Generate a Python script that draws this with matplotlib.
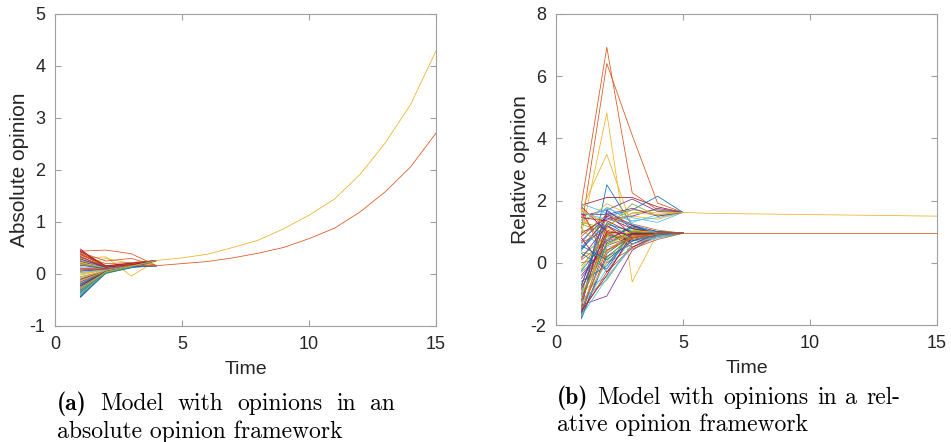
import matplotlib
matplotlib.use("Agg")
import matplotlib.pyplot as plt

# --- data ---
time = [1, 2, 3, 4, 5, 6, 7, 8, 9, 10, 11, 12, 13, 14, 15]

# (a) absolute opinions: first three steps per agent, then the cluster tail (t = 4..15)
a_t1 = [-0.44, 0.44, 0.30, -0.30, 0.10, -0.40, 0.48, -0.36, 0.40, 0.22, -0.20, 0.05, -0.32, 0.38, -0.12,
        0.26, 0.16, -0.25, -0.05, -0.42, 0.34, -0.28, 0.20, 0.12, -0.15, 0.28, -0.08, 0.45, -0.38, 0.36,
        0.02, -0.34, 0.18, -0.18, 0.24, -0.22, 0.42, -0.02, 0.08, -0.26, 0.14, -0.10, 0.32, -0.16, 0.00,
        -0.43, 0.21, -0.37, 0.43, -0.31, 0.33, -0.13, 0.06, -0.41, 0.27, -0.23, -0.45, 0.39, -0.07, 0.17,
        -0.33, 0.03, 0.29, -0.19, 0.11, -0.29]
a_t2 = [0.05, 0.46, 0.33, 0.08, 0.12, 0.02, 0.10, 0.06, 0.15, 0.11, 0.04, 0.09, 0.03, 0.14, 0.07,
        0.13, 0.30, 0.05, 0.06, 0.01, 0.12, 0.04, 0.10, 0.08, 0.06, 0.12, 0.07, 0.16, 0.03, 0.20,
        0.09, 0.02, 0.11, 0.05, 0.13, 0.04, 0.25, 0.08, 0.10, 0.05, 0.10, 0.06, 0.14, 0.05, 0.08,
        0.03, 0.10, 0.02, 0.15, 0.04, 0.12, 0.06, 0.09, 0.01, 0.11, 0.05, 0.02, 0.14, 0.07, 0.10,
        0.03, 0.08, 0.13, 0.05, 0.09, 0.04]
a_t3 = [0.15, 0.39, -0.04, 0.14, 0.18, 0.13, 0.16, 0.17, 0.20, 0.19, 0.14, 0.15, 0.16, 0.17, 0.15,
        0.18, 0.20, 0.15, 0.16, 0.12, 0.17, 0.15, 0.16, 0.18, 0.14, 0.19, 0.16, 0.21, 0.13, 0.22,
        0.17, 0.14, 0.17, 0.15, 0.18, 0.14, 0.30, 0.16, 0.17, 0.15, 0.18, 0.16, 0.19, 0.15, 0.17,
        0.14, 0.17, 0.13, 0.20, 0.14, 0.18, 0.15, 0.16, 0.13, 0.18, 0.15, 0.12, 0.19, 0.16, 0.17,
        0.14, 0.16, 0.18, 0.15, 0.17, 0.15]
a_group = ["U", "L", "U", "L", "U", "U", "L", "U", "L", "U", "U", "L", "U", "U", "L",
           "U", "U", "L", "U", "L", "U", "U", "L", "U", "U", "L", "U", "U", "L", "U",
           "L", "U", "U", "L", "U", "U", "L", "U", "L", "U", "U", "L", "U", "L", "U",
           "U", "L", "U", "U", "L", "U", "U", "L", "U", "U", "L", "U", "U", "L", "U",
           "U", "L", "U", "U", "L", "U"]
a_tail_upper = [0.26, 0.31, 0.38, 0.51, 0.65, 0.87, 1.13, 1.44, 1.91, 2.52, 3.26, 4.29]
a_tail_lower = [0.16, 0.20, 0.24, 0.31, 0.40, 0.51, 0.68, 0.88, 1.19, 1.58, 2.06, 2.71]

# (b) relative opinions: first four steps per agent, then the cluster tail (t = 5..15)
b_t1 = [-1.50, 1.88, 0.90, -1.36, -1.20, -0.90, 1.85, 0.40, 1.10, 1.70, 1.50, 1.30, 0.60, -1.75, -1.80,
        -1.60, 1.20, -1.40, 0.20, -1.10, 1.80, -0.70, 0.00, 1.40, -0.50, 1.00, -1.30, 0.80, -1.00, 1.60,
        -0.20, 0.50, -0.80, 1.10, -1.60, 0.30, 1.75, -1.70, 0.70, -0.30, 1.90, -1.20, -0.60, 0.10, 1.65,
        -0.40, 1.25, -1.45, 0.95, -1.65, 0.65, -0.95, 1.55, -0.10, 1.35, -1.55, 0.45, -1.25, 1.05, -0.75,
        0.35, -1.70, 1.45, -0.25, 0.85, -1.35, 0.15, -1.05, 1.60, -0.85, 0.55, -1.50, 1.70]
b_t2 = [2.51, 6.93, 4.82, -1.07, -0.55, -0.45, 2.10, 1.50, 6.41, 3.49, 1.70, 1.10, 1.80, 0.30, 0.20,
        -0.30, 1.90, 1.60, 0.90, 0.50, 1.00, 1.30, 0.20, 0.80, 0.70, 1.20, 0.00, -0.30, 1.70, 0.40,
        1.00, 1.40, 0.60, 0.30, 0.90, -0.20, 0.00, 1.10, 1.50, 0.40, 1.60, 1.20, -0.10, 0.70, 1.30,
        0.55, 0.95, -0.20, 1.45, 0.65, 1.05, 0.35, 1.55, 0.85, 1.75, -0.40, 1.25, 0.95, 0.55, 1.65,
        0.15, -0.50, 1.35, 0.75, 1.55, 0.05, 1.20, 0.60, 1.40, 1.00, 0.10, 0.40, 1.20]
b_t3 = [1.20, 2.25, -0.61, 0.40, 0.60, 0.50, 2.10, 1.70, 4.10, 1.16, 2.05, 1.90, 1.30, 0.90, 0.80,
        0.50, 1.50, 0.90, 1.10, 0.70, 0.50, 0.80, 0.60, 0.90, 1.20, 1.60, 0.70, 0.80, 1.10, 0.90,
        0.80, 1.50, 1.00, 1.00, 0.70, 1.00, 0.45, 0.95, 1.20, 0.85, 1.35, 0.60, 1.00, 0.95, 1.70,
        0.85, 1.05, 0.75, 1.10, 0.95, 0.85, 1.05, 1.75, 0.80, 1.45, 0.95, 1.00, 0.75, 1.00, 1.20,
        0.90, 0.60, 0.95, 1.15, 1.25, 0.85, 0.80, 1.00, 1.25, 0.90, 0.70, 0.80, 1.60]
b_t4 = [0.95, 1.70, 0.95, 0.90, 0.85, 0.80, 1.80, 2.14, 1.92, 0.90, 1.65, 1.50, 1.55, 1.00, 0.95,
        0.85, 1.40, 0.95, 0.90, 0.95, 0.90, 0.95, 0.90, 1.00, 1.00, 1.70, 0.80, 0.95, 1.00, 0.85,
        0.95, 1.75, 0.95, 1.00, 1.00, 0.90, 0.75, 0.95, 0.90, 0.95, 1.45, 0.95, 1.00, 0.95, 1.60,
        0.95, 1.00, 0.90, 0.95, 1.00, 0.95, 0.95, 1.50, 0.90, 1.30, 0.95, 0.95, 0.90, 1.00, 1.00,
        0.95, 0.85, 0.95, 1.00, 1.05, 0.90, 0.95, 0.95, 0.95, 0.95, 0.90, 0.95, 1.55]
b_group = ["L", "U", "L", "L", "L", "L", "U", "U", "U", "L", "U", "U", "U", "L", "L",
           "L", "U", "L", "L", "L", "L", "L", "L", "L", "L", "U", "L", "L", "L", "L",
           "L", "U", "L", "L", "L", "L", "L", "L", "L", "L", "U", "L", "L", "L", "U",
           "L", "L", "L", "L", "L", "L", "L", "U", "L", "U", "L", "L", "L", "L", "L",
           "L", "L", "L", "L", "L", "L", "L", "L", "L", "L", "L", "L", "U"]
b_tail_upper = [1.62, 1.59, 1.58, 1.57, 1.56, 1.55, 1.54, 1.53, 1.52, 1.51, 1.50]
b_tail_lower = [0.95, 0.95, 0.95, 0.95, 0.95, 0.95, 0.95, 0.95, 0.95, 0.95, 0.95]

# MATLAB default colour order
matlab_colors = ["#0072BD", "#D95319", "#EDB120", "#7E2F8E", "#77AC30", "#4DBEEE", "#A2142F"]

plt.rcParams["font.family"] = ["Liberation Sans", "DejaVu Sans"]
plt.rcParams["axes.unicode_minus"] = False

fig = plt.figure(figsize=(9.51, 4.42), dpi=100)
ax1 = fig.add_axes([55 / 951, 1 - 326 / 442, 381 / 951, 312 / 442])
ax2 = fig.add_axes([556 / 951, 1 - 325 / 442, 381 / 951, 311 / 442])


def draw_agents(ax, heads, groups, tails):
    # every agent runs along its own head and then along its cluster's tail;
    # the identical tails overlap, so each tail is drawn once in the colour of
    # the last agent of that cluster (the one that ends up on top)
    n_head = len(heads)
    last = {}
    for i in range(len(groups)):
        vals = [h[i] for h in heads] + [tails[groups[i]][0]]
        ax.plot(time[:n_head + 1], vals, color=matlab_colors[i % 7], lw=0.55)
        last[groups[i]] = i
    for g, i in last.items():
        ax.plot(time[n_head:], tails[g], color=matlab_colors[i % 7], lw=0.55)


draw_agents(ax1, [a_t1, a_t2, a_t3], a_group, {"U": a_tail_upper, "L": a_tail_lower})
draw_agents(ax2, [b_t1, b_t2, b_t3, b_t4], b_group, {"U": b_tail_upper, "L": b_tail_lower})

ax1.set_ylim(-1, 5)
ax1.set_yticks([-1, 0, 1, 2, 3, 4, 5])
ax1.set_ylabel("Absolute opinion", fontsize=15, color="#262626", labelpad=0)
ax2.set_ylim(-2, 8)
ax2.set_yticks([-2, 0, 2, 4, 6, 8])
ax2.set_ylabel("Relative opinion", fontsize=15, color="#262626", labelpad=0)

for ax in (ax1, ax2):
    ax.set_xlim(0, 15)
    ax.set_xticks([0, 5, 10, 15])
    ax.set_xlabel("Time", fontsize=14, color="#262626", labelpad=6)
    ax.tick_params(direction="in", top=True, right=True, length=4, width=0.8,
                   color="#a0a0a0", labelcolor="#262626", labelsize=13, pad=7)
    for s in ax.spines.values():
        s.set_color("#a0a0a0")
        s.set_linewidth(0.8)


# --- captions (LaTeX-style, first line justified to the column width) ---
def justified_line(words, fams, x0, x1, ybase, size=17):
    renderer = fig.canvas.get_renderer()
    texts = [fig.text(0, 1 - ybase / 442, w, family=f, fontsize=size, va="baseline")
             for w, f in zip(words, fams)]
    widths = [t.get_window_extent(renderer).width for t in texts]
    gap = (x1 - x0 - sum(widths)) / (len(words) - 1)
    x = x0
    for t, w in zip(texts, widths):
        t.set_x(x / 951)
        x += w + gap


justified_line(["(a)", "Model", "with", "opinions", "in", "an"],
               ["cmb10"] + ["cmr10"] * 5, 56.7, 395, 410)
fig.text(56.7 / 951, 1 - 438 / 442, "absolute opinion framework", family="cmr10",
         fontsize=17, va="baseline")

justified_line(["(b)", "Model", "with", "opinions", "in", "a", "rel-"],
               ["cmb10"] + ["cmr10"] * 6, 556.7, 900, 404)
fig.text(556.7 / 951, 1 - 431 / 442, "ative opinion framework", family="cmr10",
         fontsize=17, va="baseline")

fig.savefig("out.png", dpi=100)
